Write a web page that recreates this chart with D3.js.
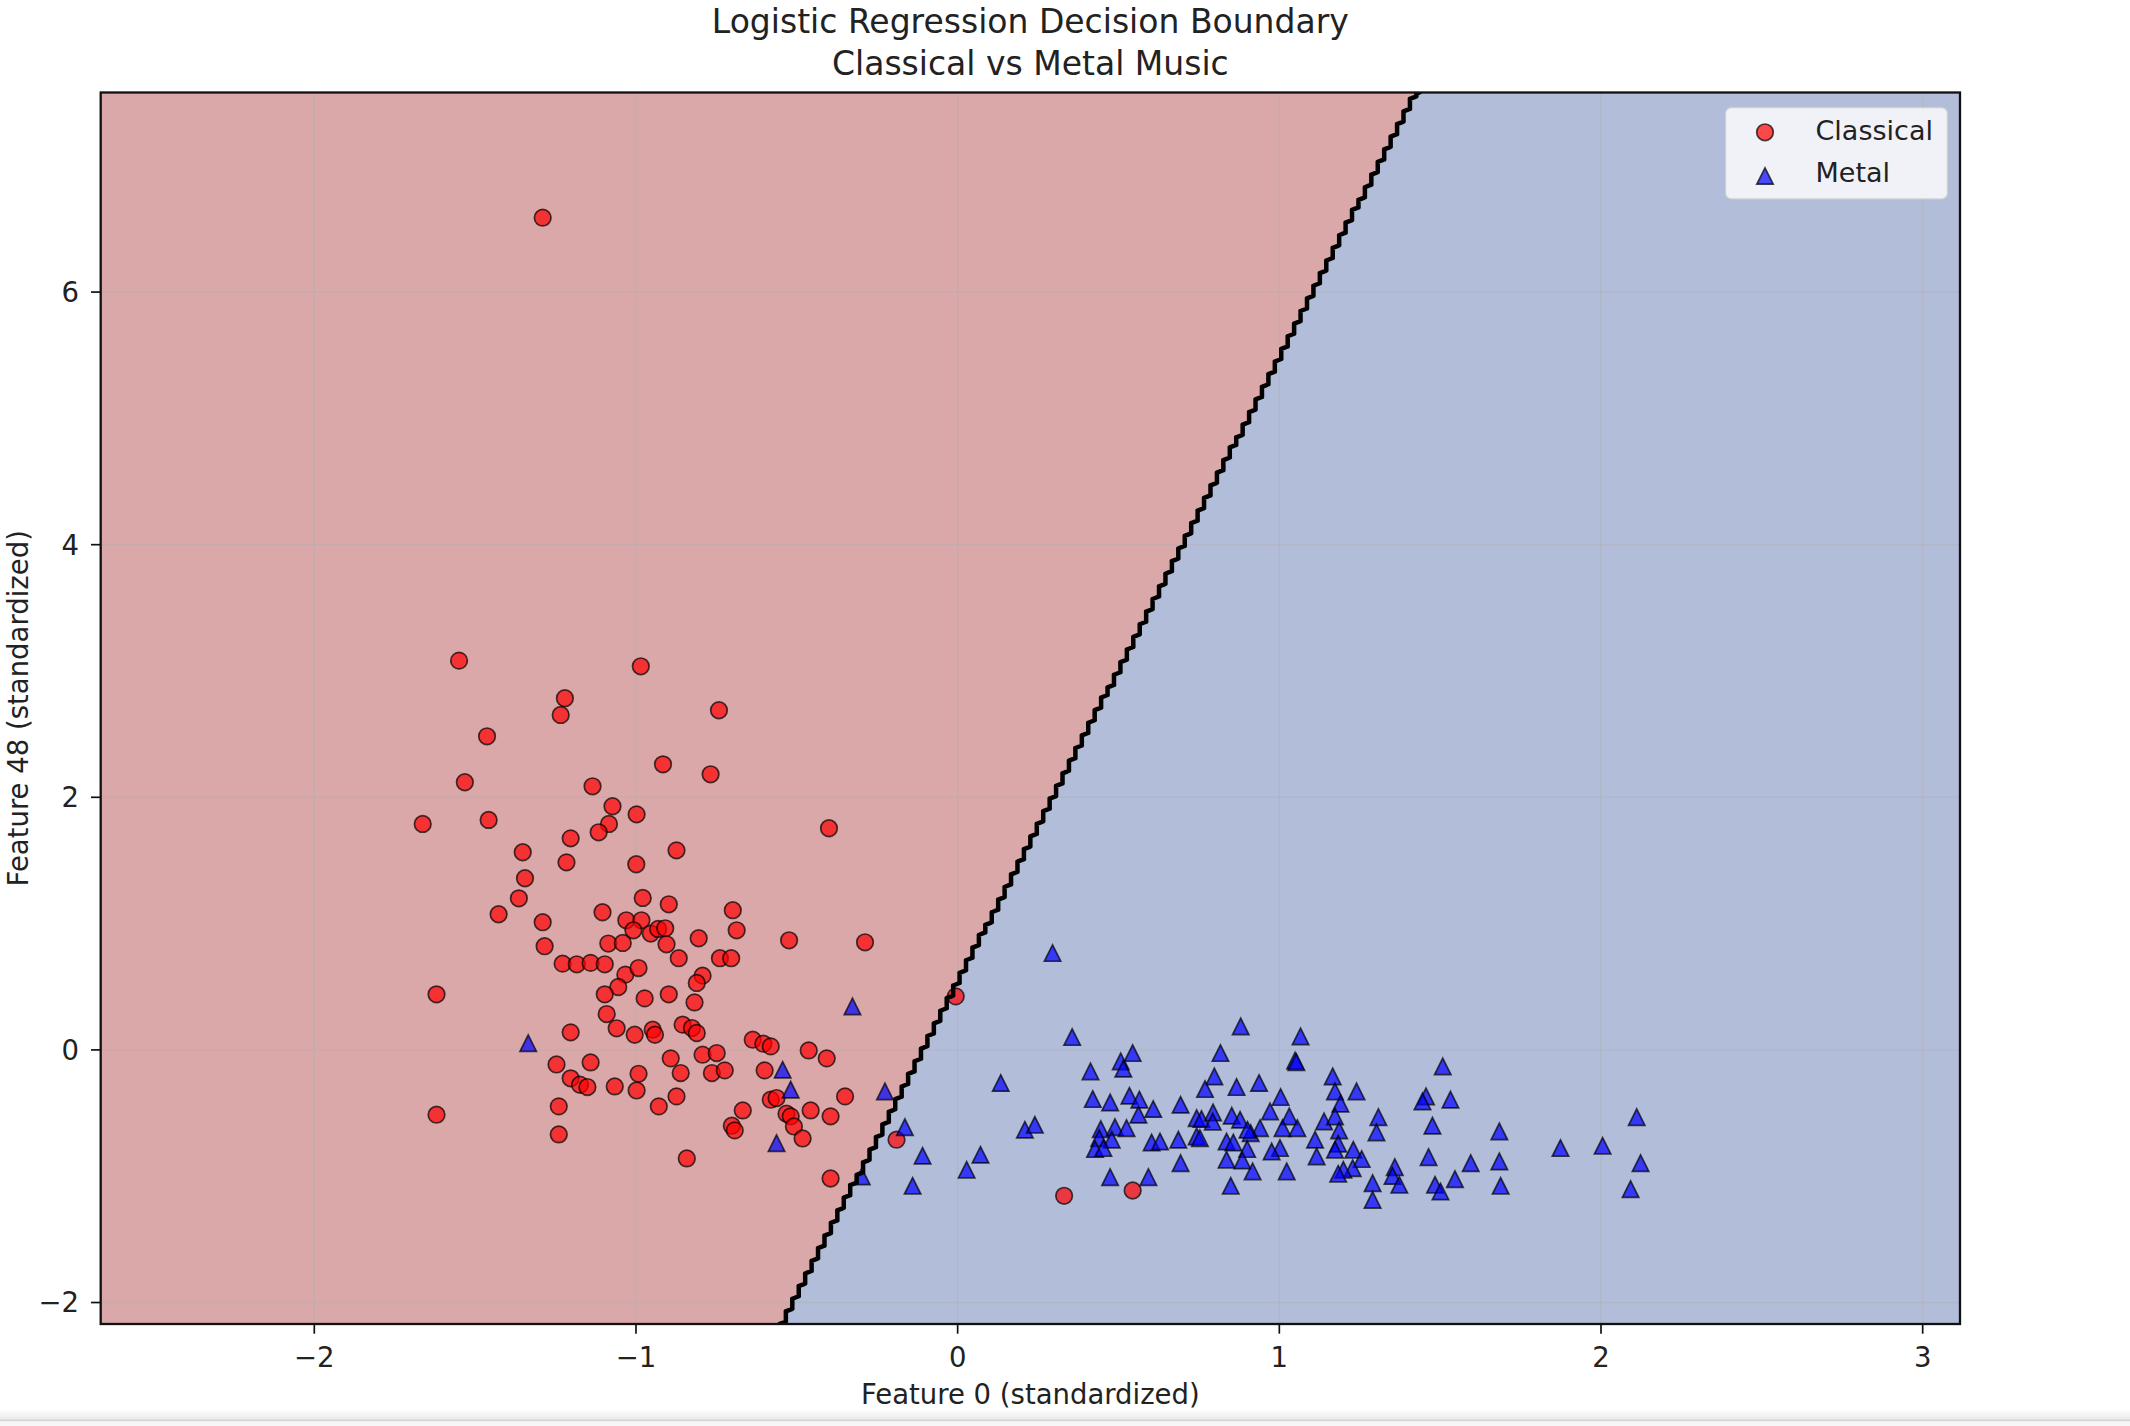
<!DOCTYPE html>
<html><head><meta charset="utf-8">
<script src="https://cdn.jsdelivr.net/npm/d3@7"></script>
<style>body{margin:0;background:#fff;} svg{display:block;font-family:"DejaVu Sans",sans-serif;}</style>
</head><body>
<svg id="chart" width="2130" height="1426"></svg>
<script>
// ---------- data ----------
const classicalX = [-1.550,-0.985,-1.221,-1.234,-0.742,-1.463,-0.916,-0.768,-1.532,-1.135,-1.073,-0.998,-1.663,-1.458,-1.084,-1.116,-0.400,-1.203,-0.874,-1.352,-1.216,-0.999,-1.345,-1.364,-0.979,-0.898,-1.427,-1.104,-0.699,-1.290,-1.030,-0.983,-1.008,-0.954,-0.931,-0.909,-0.687,-0.805,-1.284,-1.086,-1.041,-0.905,-0.524,-0.288,-0.867,-0.739,-0.704,-1.228,-1.184,-1.141,-1.097,
 -1.033,-0.992,-0.793,-0.811,-1.055,-1.620,-1.097,-0.973,-0.898,-0.818,-1.091,-1.060,-1.203,-1.004,-0.948,-0.941,-0.855,-0.826,-0.811,-0.637,-0.604,-0.581,-0.463,-0.407,-1.247,-1.141,-0.892,-0.793,-0.749,-0.992,-0.861,-0.764,-0.724,-0.600,-1.203,-1.174,-1.151,-1.066,-0.998,-0.874,-0.581,-0.563,-0.350,-1.240,-0.929,-0.668,-0.457,-0.532,-0.519,-0.395,-1.620,-0.702,-0.693,-0.509,-0.482,-1.240,-0.842,-0.395,-0.190,
 -0.006,0.331,0.544,-1.290];
const classicalY = [3.082,3.037,2.784,2.652,2.689,2.483,2.261,2.182,2.119,2.087,1.929,1.865,1.789,1.821,1.789,1.723,1.755,1.675,1.580,1.565,1.485,1.470,1.359,1.200,1.203,1.153,1.074,1.090,1.106,1.011,1.026,1.026,0.947,0.921,0.958,0.963,0.947,0.884,0.821,0.842,0.847,0.836,0.868,0.852,0.726,0.726,0.726,0.683,0.678,0.689,0.678,
 0.596,0.648,0.588,0.530,0.498,0.440,0.440,0.408,0.440,0.376,0.284,0.171,0.139,0.120,0.160,0.120,0.200,0.173,0.134,0.081,0.049,0.028,-0.004,-0.067,-0.115,-0.099,-0.067,-0.038,-0.025,-0.189,-0.183,-0.183,-0.162,-0.162,-0.225,-0.276,-0.294,-0.289,-0.321,-0.368,-0.394,-0.381,-0.368,-0.447,-0.447,-0.479,-0.479,-0.505,-0.526,-0.526,-0.513,-0.600,-0.637,-0.606,-0.701,-0.669,-0.859,-1.018,-0.711,
 0.424,-1.155,-1.113,6.589];
const metalX = [-1.335,-0.327,-0.544,-0.519,-0.226,-0.563,-0.298,
 0.295,0.356,0.544,0.507,0.515,0.413,0.134,0.420,0.474,0.534,0.565,0.608,0.562,0.693,0.743,0.445,0.489,0.525,0.440,0.479,0.427,0.453,0.603,0.629,0.686,0.743,0.693,0.474,0.593,0.209,0.240,-0.164,-0.109,0.071,0.028,-0.140,
 0.880,1.066,0.817,1.049,1.053,0.798,0.769,0.867,0.937,1.166,1.173,1.240,1.004,1.190,1.508,1.456,1.445,1.532,0.758,0.794,0.793,0.852,0.878,0.971,1.031,0.940,0.911,0.901,1.010,1.056,1.139,1.173,1.186,1.308,1.302,1.476,1.684,2.111,1.874,2.005,0.753,0.836,0.857,0.900,1.111,1.183,1.173,1.230,1.256,1.228,1.199,1.183,1.002,0.976,1.116,0.836,0.885,0.917,1.023,0.849,1.359,1.352,1.373,1.290,1.290,1.464,1.484,1.501,1.546,1.595,1.684,1.688,2.123,2.092];
const metalY = [0.054,0.345,-0.157,-0.315,-0.328,-0.738,-1.002,
 0.767,0.102,-0.025,-0.091,-0.149,-0.170,-0.262,-0.389,-0.416,-0.363,-0.394,-0.468,-0.513,-0.434,-0.540,-0.627,-0.611,-0.619,-0.698,-0.711,-0.785,-0.777,-0.733,-0.725,-0.711,-0.685,-0.896,-1.007,-1.007,-0.632,-0.593,-0.611,-0.838,-0.830,-0.949,-1.076,
 0.186,0.107,-0.025,-0.085,-0.097,-0.210,-0.310,-0.294,-0.262,-0.210,-0.328,-0.328,-0.373,-0.426,-0.130,-0.368,-0.408,-0.394,-0.547,-0.495,-0.568,-0.521,-0.553,-0.487,-0.526,-0.619,-0.659,-0.632,-0.619,-0.619,-0.566,-0.526,-0.637,-0.532,-0.653,-0.600,-0.645,-0.532,-0.777,-0.759,-0.698,-0.725,-0.733,-0.785,-0.711,-0.743,-0.791,-0.791,-0.864,-0.936,-0.949,-0.981,-0.777,-0.804,-0.843,-0.870,-0.875,-0.962,-0.962,-1.076,-0.928,-0.998,-1.068,-1.055,-1.187,-0.849,-1.068,-1.121,-1.023,-0.896,-0.883,-1.076,-0.896,-1.102];
const seriesNames = ["Classical", "Metal"];
const xTicks = [-2, -1, 0, 1, 2, 3];
const yTicks = [-2, 0, 2, 4, 6];
const titleLines = ["Logistic Regression Decision Boundary", "Classical vs Metal Music"];
const xLabel = "Feature 0 (standardized)";
const yLabel = "Feature 48 (standardized)";
// fitted logistic model (decision function) and mesh settings
const modelCoef = [2.9, -0.586];
const modelIntercept = 0.313;
const meshStep = 0.02;
const xDomain = [-2.664, 3.116];
const yDomain = [-2.17, 7.58];

// ---------- layout ----------
const L = 100.7, R = 1960, T = 92.5, B = 1324;
const svg = d3.select("#chart");
const x = d3.scaleLinear().domain(xDomain).range([L, R]);
const y = d3.scaleLinear().domain(yDomain).range([B, T]);

const defs = svg.append("defs");
defs.append("clipPath").attr("id", "plotclip").append("rect")
  .attr("x", L).attr("y", T).attr("width", R - L).attr("height", B - T);
const grad = defs.append("linearGradient").attr("id", "band").attr("x1", 0).attr("x2", 0).attr("y1", 0).attr("y2", 1);
grad.append("stop").attr("offset", "0%").attr("stop-color", "#fdfdfd");
grad.append("stop").attr("offset", "100%").attr("stop-color", "#e9e9e9");

const plot = svg.append("g").attr("clip-path", "url(#plotclip)");
plot.append("rect").attr("x", L).attr("y", T).attr("width", R - L).attr("height", B - T)
  .attr("fill", "#dba8aa");

// mesh of predictions
const n = Math.floor((xDomain[1] - xDomain[0]) / meshStep + 1e-9) + 1;
const m = Math.floor((yDomain[1] - yDomain[0]) / meshStep + 1e-9) + 1;
const values = new Array(n * m);
for (let j = 0; j < m; j++) {
  const yy = yDomain[0] + j * meshStep;
  for (let i = 0; i < n; i++) {
    const xx = xDomain[0] + i * meshStep;
    values[i + j * n] = (modelCoef[0] * xx + modelCoef[1] * yy + modelIntercept > 0) ? 1 : 0;
  }
}
const contour = d3.contours().size([n, m]).thresholds([0.5])(values)[0];
const gx = g => x(xDomain[0] + (g - 0.5) * meshStep);
const gy = g => y(yDomain[0] + (g - 0.5) * meshStep);
const proj = d3.geoTransform({ point: function (a, b) { this.stream.point(gx(a), gy(b)); } });
plot.append("path").datum(contour).attr("d", d3.geoPath(proj)).attr("fill", "#b2bdda");

// grid lines
xTicks.forEach(t => plot.append("line").attr("x1", x(t)).attr("x2", x(t)).attr("y1", T).attr("y2", B)
  .attr("stroke", "#b0b0b0").attr("stroke-opacity", 0.45).attr("stroke-width", 1.4));
yTicks.forEach(t => plot.append("line").attr("y1", y(t)).attr("y2", y(t)).attr("x1", L).attr("x2", R)
  .attr("stroke", "#b0b0b0").attr("stroke-opacity", 0.45).attr("stroke-width", 1.4));

// points
const classical = classicalX.map((v, i) => [v, classicalY[i]]);
const metal = metalX.map((v, i) => [v, metalY[i]]);
const triPath = s => `M0,${-s}L${-s},${s}L${s},${s}Z`;
plot.append("g").selectAll("circle").data(classical).join("circle")
  .attr("cx", d => x(d[0])).attr("cy", d => y(d[1])).attr("r", 8.3)
  .attr("fill", "red").attr("fill-opacity", 0.7)
  .attr("stroke", "black").attr("stroke-opacity", 0.7).attr("stroke-width", 1.7);
plot.append("g").selectAll("path").data(metal).join("path")
  .attr("transform", d => `translate(${x(d[0])},${y(d[1])})`).attr("d", triPath(8.2))
  .attr("fill", "blue").attr("fill-opacity", 0.7)
  .attr("stroke", "black").attr("stroke-opacity", 0.7).attr("stroke-width", 1.7);

// decision boundary line (interior segments of the contour)
const onBorder = p => p[0] <= 0 || p[0] >= n || p[1] <= 0 || p[1] >= m;
let dStr = "";
contour.coordinates.forEach(poly => poly.forEach(ring => {
  for (let k = 0; k < ring.length - 1; k++) {
    const p = ring[k], q = ring[k + 1];
    if (onBorder(p) && onBorder(q)) continue;
    dStr += `M${gx(p[0])},${gy(p[1])}L${gx(q[0])},${gy(q[1])}`;
  }
}));
plot.append("path").attr("d", dStr).attr("fill", "none").attr("stroke", "black")
  .attr("stroke-width", 4.5).attr("stroke-linecap", "round").attr("stroke-linejoin", "round");

// spines
svg.append("rect").attr("x", L).attr("y", T).attr("width", R - L).attr("height", B - T)
  .attr("fill", "none").attr("stroke", "#111").attr("stroke-width", 2.3);

// axes ticks + labels
const fmt = d3.format("");
const gxAxis = svg.append("g");
xTicks.forEach(t => {
  gxAxis.append("line").attr("x1", x(t)).attr("x2", x(t)).attr("y1", B).attr("y2", B + 9.7)
    .attr("stroke", "#111").attr("stroke-width", 1.7);
  gxAxis.append("text").attr("x", x(t)).attr("y", 1366.5).attr("text-anchor", "middle")
    .attr("font-size", 27.5).attr("fill", "#222").text(fmt(t));
});
const gyAxis = svg.append("g");
yTicks.forEach(t => {
  gyAxis.append("line").attr("x1", L - 9.7).attr("x2", L).attr("y1", y(t)).attr("y2", y(t))
    .attr("stroke", "#111").attr("stroke-width", 1.7);
  gyAxis.append("text").attr("x", 79).attr("y", y(t)).attr("dy", "0.36em").attr("text-anchor", "end")
    .attr("font-size", 27.5).attr("fill", "#222").text(fmt(t));
});

svg.append("text").attr("x", (L + R) / 2).attr("y", 1404).attr("text-anchor", "middle")
  .attr("font-size", 27.5).attr("fill", "#222").text(xLabel);
svg.append("text").attr("transform", `translate(28,${(T + B) / 2}) rotate(-90)`).attr("text-anchor", "middle")
  .attr("font-size", 27.5).attr("fill", "#222").text(yLabel);

titleLines.forEach((t, i) => svg.append("text").attr("x", (L + R) / 2).attr("y", 33 + i * 41.5)
  .attr("text-anchor", "middle").attr("font-size", 33).attr("fill", "#222").text(t));

// legend
const lg = svg.append("g");
lg.append("rect").attr("x", 1725.5).attr("y", 107.5).attr("width", 222).attr("height", 91.5).attr("rx", 6)
  .attr("fill", "white").attr("fill-opacity", 0.8).attr("stroke", "#cccccc").attr("stroke-opacity", 0.8).attr("stroke-width", 1.4);
const markerY = [132.3, 176];
const labelBase = [140, 181.7];
lg.append("circle").attr("cx", 1765).attr("cy", markerY[0]).attr("r", 8.3)
  .attr("fill", "red").attr("fill-opacity", 0.7).attr("stroke", "black").attr("stroke-opacity", 0.7).attr("stroke-width", 1.7);
lg.append("path").attr("transform", `translate(1765,${markerY[1]})`).attr("d", triPath(8.2))
  .attr("fill", "blue").attr("fill-opacity", 0.7).attr("stroke", "black").attr("stroke-opacity", 0.7).attr("stroke-width", 1.7);
seriesNames.forEach((s, i) => lg.append("text").attr("x", 1815.5).attr("y", labelBase[i])
  .attr("font-size", 27).attr("fill", "#222").text(s));

// notebook bottom band
svg.append("rect").attr("x", 0).attr("y", 1410).attr("width", 2130).attr("height", 10).attr("fill", "url(#band)");
svg.append("line").attr("x1", 0).attr("x2", 2130).attr("y1", 1420.5).attr("y2", 1420.5).attr("stroke", "#d4d4d4").attr("stroke-width", 2);
svg.append("rect").attr("x", 0).attr("y", 1421.5).attr("width", 2130).attr("height", 5).attr("fill", "#f7f7f7");
</script>
</body></html>
